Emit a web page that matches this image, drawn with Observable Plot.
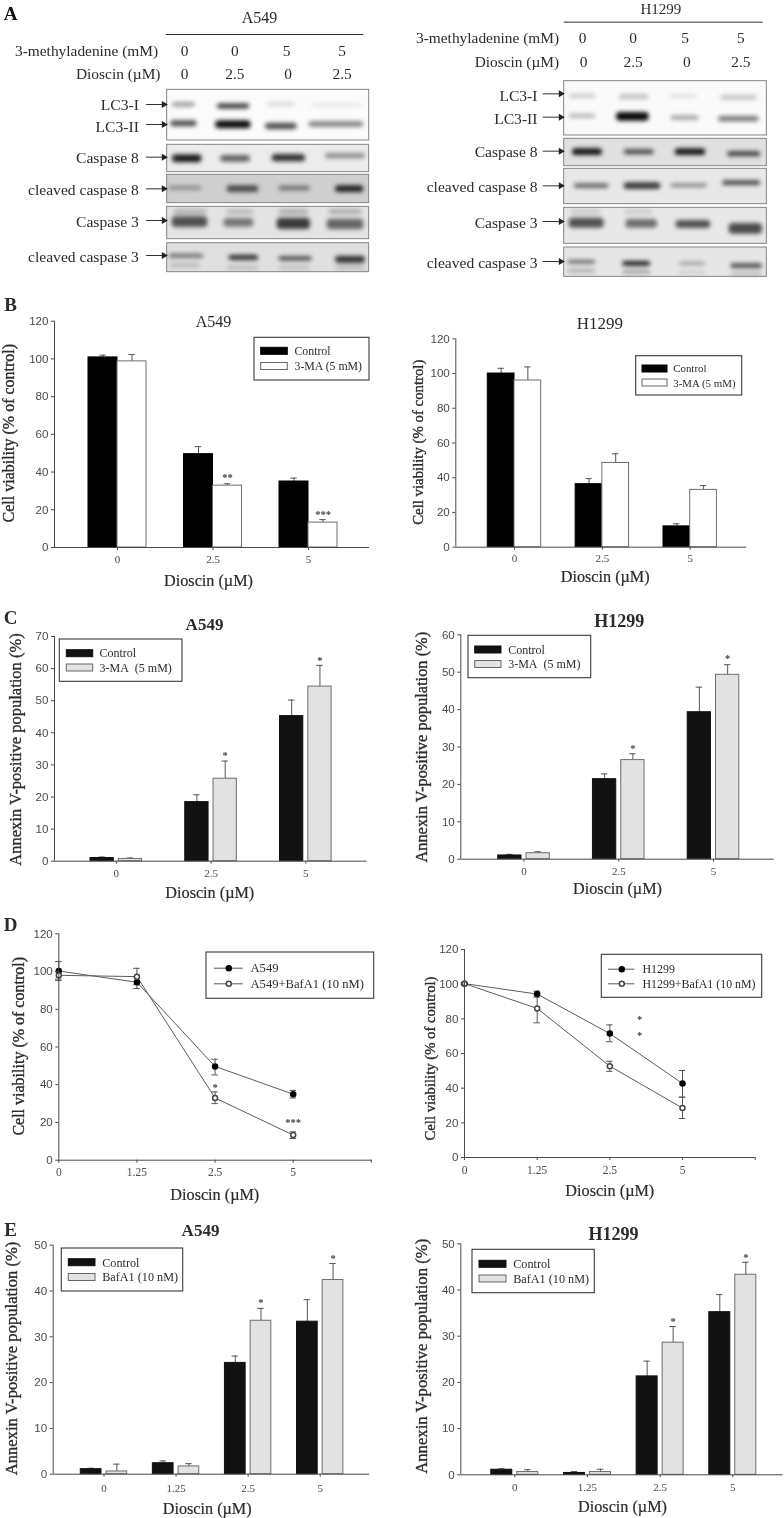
<!DOCTYPE html>
<html><head><meta charset="utf-8">
<script src="https://cdn.jsdelivr.net/npm/d3@7"></script>
<script src="https://cdn.jsdelivr.net/npm/@observablehq/plot@0.6"></script>
<style>
html,body{margin:0;padding:0;background:#fff}
#page{position:relative;width:784px;height:1518px;overflow:hidden;filter:blur(.4px)}
</style></head><body><div id="page"></div>
<script>
const SERIF = "Liberation Serif", SANS = "Liberation Sans", INK = "#2b2b2b", AXIS = "#4a4a4a";
const doses3 = ["0", "2.5", "5"];
const doses4 = ["0", "1.25", "2.5", "5"];
const viabilityTicks = [0, 20, 40, 60, 80, 100, 120];

// Panel B
const bA549Control = [100.8, 49.5, 35], bA549ControlTop = [102, 53.5, 36.8];
const bA549MA = [98.7, 32.8, 13.2], bA549MATop = [102.3, 33.8, 14.8];
const bA549Stars = [{at: 1, s: 1, v: 38.5, t: "**"}, {at: 2, s: 1, v: 18.7, t: "***"}];
const bH1299Control = [100, 36.3, 12], bH1299ControlTop = [103, 39.5, 13.5];
const bH1299MA = [96, 48.5, 33], bH1299MATop = [103.8, 53.8, 35.5];
// Panel C
const cA549Control = [1, 18.4, 45.2], cA549ControlTop = [1.3, 20.7, 50.2];
const cA549MA = [0.7, 25.7, 54.4], cA549MATop = [1, 31.2, 61];
const cA549Stars = [{at: 1, s: 1, v: 33.7, t: "*"}, {at: 2, s: 1, v: 63.3, t: "*"}];
const cH1299Control = [1, 21.4, 39.3], cH1299ControlTop = [1.3, 22.8, 46];
const cH1299MA = [1.6, 26.5, 49.3], cH1299MATop = [2, 28.2, 52];
const cH1299Stars = [{at: 1, s: 1, v: 30.3, t: "*"}, {at: 2, s: 1, v: 54.4, t: "*"}];
// Panel D
const dA549 = [100.3, 94.3, 49.7, 35], dA549Hi = [105.3, 97, 53.5, 37], dA549Lo = [95.2, 91, 45.2, 33];
const dA549Baf = [98, 97.3, 33, 13.3], dA549BafHi = [100, 101.7, 36.2, 15], dA549BafLo = [96, 93, 30, 11.5];
const dA549Stars = [{at: 2, v: 40, t: "*"}, {at: 3, v: 21.5, t: "***"}];
const dH1299 = [100.3, 94.3, 71.5, 42.7], dH1299Hi = [100.8, 96, 76.5, 50.2], dH1299Lo = [99.8, 92.5, 66.8, 34.8];
const dH1299Baf = [100.3, 86, 52.7, 28.5], dH1299BafHi = [100.8, 93.5, 55.5, 34.8], dH1299BafLo = [99.8, 77.7, 49.7, 22.5];
const dH1299Stars = [{at: 2.41, v: 80.8, t: "*"}, {at: 2.41, v: 71.7, t: "*"}];
// Panel E
const eA549Control = [1.1, 2.4, 24.3, 33.3], eA549ControlTop = [1.3, 2.9, 25.8, 38.1];
const eA549Baf = [0.6, 1.7, 33.5, 42.4], eA549BafTop = [2.2, 2.3, 36.2, 46];
const eA549Stars = [{at: 2, s: 1, v: 37.9, t: "*"}, {at: 3, s: 1, v: 47.7, t: "*"}];
const eH1299Control = [1.1, 0.4, 21.3, 35.2], eH1299ControlTop = [1.3, 0.7, 24.6, 39];
const eH1299Baf = [0.6, 0.6, 28.6, 43.3], eH1299BafTop = [1.1, 1.2, 32.1, 46];
const eH1299Stars = [{at: 2, s: 1, v: 33.8, t: "*"}, {at: 3, s: 1, v: 47.5, t: "*"}];

// Panel A: blots at 3x picture units: [x1, x2, y, half thickness, density]
const stripsA549 = [
  {y1: 268, y2: 420, bg: "#fbfbfb"}, {y1: 433, y2: 515, bg: "#ececec"}, {y1: 523, y2: 608, bg: "#cfcfcf"},
  {y1: 619, y2: 716, bg: "#e4e4e4"}, {y1: 728, y2: 815, bg: "#e0e0e0"}];
const bandsA549 = [
  [515,585,313,7,.38],[650,748,318,8,.75],[800,885,312,7,.12],[935,1085,315,6,.08],
  [510,590,370,9,.7],[645,752,373,12,.95],[660,745,374,6,1],[795,890,378,10,.7],[925,1090,372,8,.5],
  [515,605,475,12,.85],[530,600,476,5,1],[660,750,475,10,.6],[815,915,473,11,.82],[975,1095,467,8,.42],
  [505,605,563,6,.35],[680,775,566,10,.68],[835,930,564,7,.5],[1005,1090,566,10,.88],
  [520,620,635,7,.25],[680,760,635,6,.25],[835,925,635,7,.28],[985,1085,635,7,.28],
  [515,622,665,16,.68],[670,760,667,13,.5],[830,930,670,17,.78],[980,1090,672,16,.58],
  [505,610,767,6,.55],[685,775,772,8,.82],[835,935,775,7,.65],[1005,1095,778,11,.8],
  [510,600,795,6,.2],[680,775,803,5,.2],[835,930,803,5,.18],[1005,1095,803,5,.2]];
const labelsA549 = [
  {t: "LC3-I", y: 312}, {t: "LC3-II", y: 378}, {t: "Caspase 8", y: 473},
  {t: "cleaved caspase 8", y: 568}, {t: "Caspase 3", y: 665}, {t: "cleaved caspase 3", y: 768}];
const arrowYA549 = [312, 372, 470, 565, 660, 765];
const stripsH1299 = [
  {y1: 242, y2: 405, bg: "#fafafa"}, {y1: 415, y2: 497, bg: "#e0e0e0"}, {y1: 505, y2: 611, bg: "#e8e8e8"},
  {y1: 622, y2: 730, bg: "#e8e8e8"}, {y1: 741, y2: 829, bg: "#e6e6e6"}];
const bandsH1299 = [
  [530,610,287,6,.2],[680,770,290,7,.25],[830,915,288,5,.1],[985,1095,292,7,.22],
  [530,610,347,6,.3],[672,770,349,13,1],[835,920,353,7,.35],[978,1100,356,8,.55],
  [540,630,455,10,.95],[695,785,455,8,.68],[848,940,455,10,.92],[1005,1105,461,8,.72],
  [545,650,557,7,.58],[695,805,557,10,.78],[835,945,556,6,.42],[990,1105,548,7,.72],
  [535,625,635,7,.15],[695,780,635,6,.15],
  [530,635,668,15,.68],[700,795,670,13,.55],[850,955,672,12,.68],[1010,1110,685,16,.7],
  [525,610,785,6,.55],[690,775,790,7,.92],[860,940,790,5,.35],[1015,1110,797,7,.7],
  [525,610,812,6,.25],[690,775,815,6,.3],[860,940,817,5,.12],[1015,1110,822,4,.3]];
const labelsH1299 = [
  {t: "LC3-I", y: 287}, {t: "LC3-II", y: 355}, {t: "Caspase 8", y: 455},
  {t: "cleaved caspase 8", y: 560}, {t: "Caspase 3", y: 668}, {t: "cleaved caspase 3", y: 786}];
const arrowYH1299 = [280, 350, 452, 556, 663, 783];
const agentDose = ["0", "0", "5", "5"], dioscinDose = ["0", "2.5", "0", "2.5"];

const page = document.getElementById("page");

function blot(o) {
  const ann = [
    {x: o.cellX, y: o.cellY, t: o.cell, a: "middle", fs: o.cellSize},
    {x: o.rowEnd[0], y: o.rowY[0], t: "3-methyladenine (mM)", a: "end", fs: 15.4},
    {x: o.rowEnd[1], y: o.rowY[1], t: "Dioscin (\u00b5M)", a: "end", fs: 15.4},
    ...agentDose.map((t, i) => ({x: o.col0[i], y: o.rowY[0], t, a: "middle", fs: 15.4})),
    ...dioscinDose.map((t, i) => ({x: o.col1[i], y: o.rowY[1], t, a: "middle", fs: 15.4})),
    ...o.labels.map(d => ({x: o.labelEnd, y: d.y, t: d.t, a: "end", fs: 15.6}))
  ];
  const bands = o.bands.map(([x1, x2, y, h, d]) => ({x1, x2, y1: y - h, y2: y + h, d}));
  const arrows = o.arrowY.map(y => ({x1: o.arrowX[0], x2: o.arrowX[1], y}));
  const marks = [
    Plot.rect(o.strips, {x1: () => o.frame[0], x2: () => o.frame[1], y1: "y1", y2: "y2", fill: "bg"}),
    Plot.rect(bands, {x1: "x1", x2: "x2", y1: "y1", y2: "y2", fill: "#0a0a0a", fillOpacity: "d", rx: 4, imageFilter: "blur(2.3px)"}),
    Plot.rect(o.strips, {x1: () => o.frame[0], x2: () => o.frame[1], y1: "y1", y2: "y2", fill: "none", stroke: "#858585", strokeWidth: 1}),
    Plot.ruleY([o.headLine[2]], {x1: o.headLine[0], x2: o.headLine[1], stroke: "#333", strokeWidth: 1}),
    Plot.ruleY(arrows, {y: "y", x1: "x1", x2: "x2", stroke: "#333", strokeWidth: 1}),
    Plot.dot(arrows, {x: d => d.x2 - 7, y: "y", symbol: "triangle", rotate: 90, r: 2.6, fill: "#222", stroke: "none"}),
    ...["start", "middle", "end"].flatMap(a => [Plot.text(ann.filter(d => d.a === a), {x: "x", y: "y", text: "t", textAnchor: a, fontFamily: SERIF, fontSize: d => d.fs, fill: INK})])
  ];
  if (o.letter) marks.push(Plot.text([o.letter], {x: () => 30, y: () => 40, text: d => d, fontFamily: SERIF, fontWeight: "bold", fontSize: 19, fill: "#111"}));
  page.appendChild(Plot.plot({
    width: 392, height: 290, margin: 0,
    x: {domain: [0, 1176], axis: null}, y: {domain: [870, 0], axis: null},
    opacity: {domain: [0, 1], range: [0, 1]},
    style: {position: "absolute", left: o.left + "px", top: "0px", background: "transparent", overflow: "visible"},
    marks
  }));
}

blot({left: 0, letter: "A", cell: "A549", cellX: 777, cellY: 53, cellSize: 16,
  headLine: [497, 1090, 102], rowEnd: [473, 480], rowY: [152, 222],
  col0: [552, 703, 858, 1025], col1: [552, 703, 863, 1025], labelEnd: 415, labels: labelsA549,
  arrowX: [438, 497], arrowY: arrowYA549, frame: [500, 1106], strips: stripsA549, bands: bandsA549});
blot({left: 392, cell: "H1299", cellX: 805, cellY: 26, cellSize: 15,
  headLine: [515, 1112, 65], rowEnd: [500, 500], rowY: [113, 185],
  col0: [570, 722, 878, 1045], col1: [573, 722, 883, 1045], labelEnd: 435, labels: labelsH1299,
  arrowX: [452, 512], arrowY: arrowYH1299, frame: [515, 1123], strips: stripsH1299, bands: bandsH1299});

// Shared frame for the charts: all layout numbers are page pixels and go through the scales' inverse.
function frame(p, extraMarks) {
  const unit = (p.cLast - p.c0) / (p.labels.length - 1);
  const X = px => (px - p.c0) / unit;
  const Y = py => p.yMax * (p.y0 - py) / (p.y0 - p.yTop);
  const tickSize = 3, xfs = p.xTickSize || 11;
  const notes = [
    {x: X(p.dioscin[0]), y: Y(p.dioscin[1]), t: "Dioscin (\u00b5M)", fw: "normal", fs: 16.2, r: 0, sw: .2},
    {x: X(p.ylabel[0]), y: Y(p.ylabel[1]), t: p.ylabel[2], fw: "normal", fs: p.ylabel[3], r: -90, sw: .35}
  ];
  if (p.title) notes.push({x: X(p.title[0]), y: Y(p.title[1]), t: p.title[2], fw: p.title[4] || "normal", fs: p.title[3], r: 0, sw: 0});
  if (p.letter) notes.push({x: X(p.letter[0]), y: Y(p.letter[1]), t: p.letter[2], fw: "bold", fs: 19, r: 0, sw: 0});
  const textMark = (data, opts) => Plot.text(data, {x: "x", y: "y", text: "t", fontFamily: SERIF, fill: INK, ...opts});
  const lg = p.legend;
  const lgMarks = [
    Plot.rect([lg.box], {x1: d => X(d[0]), x2: d => X(d[1]), y1: d => Y(d[2]), y2: d => Y(d[3]), fill: "#fff", stroke: "#3a3a3a", strokeWidth: 1.1}),
    textMark(lg.rows.map((r, i) => ({x: X(lg.textX), y: Y(r.ty), t: r.t})), {textAnchor: "start", fontSize: lg.fs || 12})
  ];
  if (lg.swatch) lgMarks.push(Plot.rect(lg.rows, {x1: () => X(lg.swatch[0]), x2: () => X(lg.swatch[1]), y1: r => Y(r.sy), y2: r => Y(r.sy + 7), fill: (r, i) => i ? p.fill1 : p.fill0, stroke: (r, i) => i ? "#666" : p.fill0, strokeWidth: 1}));
  if (lg.line) {
    lgMarks.push(Plot.ruleY(lg.rows, {y: r => Y(r.ty), x1: () => X(lg.line[0]), x2: () => X(lg.line[1]), stroke: "#555"}));
    lgMarks.push(Plot.dot(lg.rows, {x: () => X(lg.line[2]), y: r => Y(r.ty), r: 2.5, fill: (r, i) => i ? "#fff" : "#000", stroke: (r, i) => i ? "#444" : "#000"}));
  }
  page.appendChild(Plot.plot({
    width: 392, height: p.h,
    marginLeft: p.ax - p.left, marginTop: p.yTop - p.top,
    marginRight: p.left + 392 - p.axEnd, marginBottom: p.top + p.h - p.y0,
    x: {domain: [X(p.ax), X(p.axEnd)], axis: null},
    y: {domain: [0, p.yMax], axis: null},
    style: {position: "absolute", left: p.left + "px", top: p.top + "px", background: "transparent", overflow: "visible"},
    marks: [
      ...extraMarks(unit),
      Plot.ruleY([0], {stroke: AXIS, strokeWidth: 1}),
      Plot.ruleX([X(p.ax)], {y1: 0, y2: p.yMax, stroke: AXIS, strokeWidth: 1}),
      Plot.axisY({ticks: p.yTicks, tickSize, tickPadding: 3, color: AXIS, fontFamily: SANS, fontSize: 11.6, label: null}),
      Plot.axisX({ticks: d3.range(p.labels.length + (p.extraTicks || 0)), tickFormat: i => p.labels[i] ?? "", tickSize, tickPadding: p.xLabelY - p.y0 - tickSize - xfs / 2, color: AXIS, fontFamily: SERIF, fontSize: xfs, label: null}),
      ...lgMarks,
      ...notes.map(n => textMark([n], {fontSize: n.fs, fontWeight: n.fw, rotate: n.r, stroke: n.sw ? INK : "none", strokeWidth: n.sw})),
      p.stars ? textMark(p.stars.map(s => ({x: s.s == null ? s.at : s.at + (p.gap + p.barW / 2) / unit, y: s.v, t: s.t})), {fontSize: 10.5, fontWeight: "bold", dy: 2.5, fill: "#444"}) : null
    ]
  }));
}

function barPanel(p) {
  frame(p, unit => {
    const gap = p.gap / unit, bw = p.barW / unit, cap = 3.2 / unit;
    const rows = p.labels.flatMap((_, i) => [
      {i, s: 0, a: i - gap - bw, b: i - gap, v: p.v0[i], top: p.t0[i]},
      {i, s: 1, a: i + gap, b: i + gap + bw, v: p.v1[i], top: p.t1[i]}
    ]);
    const mid = d => (d.a + d.b) / 2;
    return [
      Plot.ruleX(rows, {x: mid, y1: "v", y2: "top", stroke: "#555", strokeWidth: 1}),
      Plot.ruleY(rows, {y: "top", x1: d => mid(d) - cap, x2: d => mid(d) + cap, stroke: "#555", strokeWidth: 1}),
      Plot.rect(rows, {x1: "a", x2: "b", y1: () => 0, y2: "v", fill: d => d.s ? p.fill1 : p.fill0, stroke: d => d.s ? "#6e6e6e" : p.fill0, strokeWidth: 1})
    ];
  });
}

function linePanel(p) {
  frame(p, unit => {
    const cap = 3.2 / unit;
    const rows = p.series.flatMap((s, k) => s.v.map((v, i) => ({i, k, v, hi: s.hi[i], lo: s.lo[i]})));
    return [
      Plot.line(rows, {x: "i", y: "v", z: "k", stroke: "#5c5c5c", strokeWidth: 1, curve: "linear"}),
      Plot.ruleX(rows, {x: "i", y1: "lo", y2: "hi", stroke: "#555"}),
      Plot.ruleY(rows, {y: "hi", x1: d => d.i - cap, x2: d => d.i + cap, stroke: "#555"}),
      Plot.ruleY(rows, {y: "lo", x1: d => d.i - cap, x2: d => d.i + cap, stroke: "#555"}),
      Plot.dot(rows, {x: "i", y: "v", r: 2.5, fill: d => d.k ? "#fff" : "#000", stroke: d => d.k ? "#444" : "#000"})
    ];
  });
}

const VIAB = "Cell viability (% of control)", ANX = "Annexin V-positive population (%)";
const NB = "\u00a0";

barPanel({left: 0, top: 290, h: 310, ax: 54, axEnd: 369, y0: 547, yTop: 320.7, yMax: 120, yTicks: viabilityTicks,
  c0: 117, cLast: 308, labels: doses3, gap: 0, barW: 29, xLabelY: 560,
  v0: bA549Control, t0: bA549ControlTop, v1: bA549MA, t1: bA549MATop, fill0: "#000", fill1: "#fff", stars: bA549Stars,
  title: [213, 321, "A549", 16], dioscin: [208, 580], ylabel: [8, 432.7, VIAB, 16], letter: [10, 304, "B"],
  legend: {box: [254, 369, 337.3, 380], swatch: [260.7, 287.3], textX: 294, fs: 11.8, rows: [{t: "Control", sy: 347.3, ty: 351}, {t: "3-MA (5 mM)", sy: 362.5, ty: 365.7}]}});
barPanel({left: 392, top: 290, h: 310, ax: 455.3, axEnd: 746.3, y0: 546.7, yTop: 338.3, yMax: 120, yTicks: viabilityTicks,
  c0: 514, cLast: 689.7, labels: doses3, gap: 0, barW: 26.7, xLabelY: 559,
  v0: bH1299Control, t0: bH1299ControlTop, v1: bH1299MA, t1: bH1299MATop, fill0: "#000", fill1: "#fff",
  title: [599.3, 323.3, "H1299", 17], dioscin: [604.7, 576.7], ylabel: [418, 441.7, VIAB, 14.8],
  legend: {box: [635.7, 741.7, 355.7, 395], swatch: [642, 667], textX: 672.7, fs: 10.9, rows: [{t: "Control", sy: 365, ty: 368.3}, {t: "3-MA (5 mM)", sy: 379, ty: 382.7}]}});

barPanel({left: 0, top: 600, h: 305, ax: 54, axEnd: 366.7, y0: 860.7, yTop: 636, yMax: 70, yTicks: d3.range(0, 71, 10),
  c0: 115.8, cLast: 305.3, labels: doses3, gap: 2.5, barW: 23.3, xLabelY: 874,
  v0: cA549Control, t0: cA549ControlTop, v1: cA549MA, t1: cA549MATop, fill0: "#111", fill1: "#e2e2e2", stars: cA549Stars,
  title: [204, 624, "A549", 17, "bold"], dioscin: [209.3, 892.3], ylabel: [15, 749, ANX, 16.5], letter: [10, 617, "C"],
  legend: {box: [59.3, 182, 639, 681.3], swatch: [66.3, 92.7], textX: 99, rows: [{t: "Control", sy: 649.7, ty: 653}, {t: "3-MA" + NB + " (5 mM)", sy: 664, ty: 667.7}]}});
barPanel({left: 392, top: 600, h: 305, ax: 460.3, axEnd: 773.7, y0: 858.7, yTop: 634.3, yMax: 60, yTicks: d3.range(0, 61, 10),
  c0: 523.5, cLast: 713, labels: doses3, gap: 2.5, barW: 23.3, xLabelY: 872,
  v0: cH1299Control, t0: cH1299ControlTop, v1: cH1299MA, t1: cH1299MATop, fill0: "#111", fill1: "#e2e2e2", stars: cH1299Stars,
  title: [618.7, 620.7, "H1299", 18, "bold"], dioscin: [617, 888.7], ylabel: [421.3, 746.7, ANX, 16.4],
  legend: {box: [468, 590.7, 635.3, 677.7], swatch: [474.7, 501], textX: 507.7, rows: [{t: "Control", sy: 646, ty: 649.3}, {t: "3-MA" + NB + " (5 mM)", sy: 660.5, ty: 664}]}});

linePanel({left: 0, top: 905, h: 305, ax: 58.3, axEnd: 371.7, y0: 1159.7, yTop: 933.3, yMax: 120, yTicks: viabilityTicks,
  c0: 58.3, cLast: 292.7, labels: doses4, extraTicks: 1, xLabelY: 1173, xTickSize: 11.5, stars: dA549Stars,
  series: [{v: dA549, hi: dA549Hi, lo: dA549Lo}, {v: dA549Baf, hi: dA549BafHi, lo: dA549BafLo}],
  dioscin: [214.3, 1194.3], ylabel: [18, 1045.8, VIAB, 16], letter: [10, 924, "D"],
  legend: {box: [206, 373.7, 952, 998.3], line: [214, 242.7, 228.3], textX: 250, fs: 12.6, rows: [{t: "A549", ty: 967.7}, {t: "A549+BafA1 (10 nM)", ty: 983.3}]}});
linePanel({left: 392, top: 905, h: 305, ax: 464, axEnd: 754.7, y0: 1157, yTop: 949, yMax: 120, yTicks: viabilityTicks,
  c0: 464, cLast: 682, labels: doses4, extraTicks: 1, xLabelY: 1171, xTickSize: 11.5, stars: dH1299Stars,
  series: [{v: dH1299, hi: dH1299Hi, lo: dH1299Lo}, {v: dH1299Baf, hi: dH1299BafHi, lo: dH1299BafLo}],
  dioscin: [609.3, 1190], ylabel: [429.3, 1058, VIAB, 14.7],
  legend: {box: [601.3, 761.7, 954.3, 997.3], line: [608, 634.3, 621.3], textX: 642, fs: 11.9, rows: [{t: "H1299", ty: 968.7}, {t: "H1299+BafA1 (10 nM)", ty: 983.3}]}});

barPanel({left: 0, top: 1210, h: 308, ax: 52.7, axEnd: 369.3, y0: 1473.7, yTop: 1244.7, yMax: 50, yTicks: d3.range(0, 51, 10),
  c0: 103.5, cLast: 319.7, labels: doses4, gap: 2.5, barW: 20.7, xLabelY: 1489.3,
  v0: eA549Control, t0: eA549ControlTop, v1: eA549Baf, t1: eA549BafTop, fill0: "#111", fill1: "#e2e2e2", stars: eA549Stars,
  title: [200, 1230, "A549", 17, "bold"], dioscin: [206.7, 1508.3], ylabel: [11, 1358, ANX, 16.6], letter: [10, 1229, "E"],
  legend: {box: [61.3, 182.7, 1248, 1291], swatch: [68.3, 95], textX: 101.7, fs: 12.2, rows: [{t: "Control", sy: 1258.7, ty: 1262.3}, {t: "BafA1 (10 nM)", sy: 1273.5, ty: 1277}]}});
barPanel({left: 392, top: 1210, h: 308, ax: 460.3, axEnd: 782.7, y0: 1474.3, yTop: 1243.3, yMax: 50, yTicks: d3.range(0, 51, 10),
  c0: 514.3, cLast: 732.3, labels: doses4, gap: 2.5, barW: 21, xLabelY: 1488,
  v0: eH1299Control, t0: eH1299ControlTop, v1: eH1299Baf, t1: eH1299BafTop, fill0: "#111", fill1: "#e2e2e2", stars: eH1299Stars,
  title: [613, 1233.3, "H1299", 18, "bold"], dioscin: [622, 1506], ylabel: [421.3, 1355.8, ANX, 16.7],
  legend: {box: [472, 594.3, 1249.3, 1292.7], swatch: [479, 506], textX: 512.7, fs: 12.2, rows: [{t: "Control", sy: 1260.3, ty: 1263.7}, {t: "BafA1 (10 nM)", sy: 1275, ty: 1279}]}});
</script></body></html>
